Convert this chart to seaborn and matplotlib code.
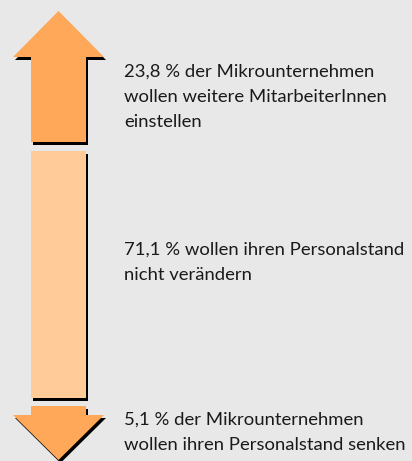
import matplotlib
matplotlib.use("Agg")
import matplotlib.pyplot as plt
from matplotlib.patches import Polygon
import seaborn as sns

# Survey shares (percent) and their captions, top to bottom
shares = [23.8, 71.1, 5.1]
captions = [
    ["{} % der Mikrounternehmen", "wollen weitere MitarbeiterInnen", "einstellen"],
    ["{} % wollen ihren Personalstand", "nicht verändern"],
    ["{} % der Mikrounternehmen", "wollen ihren Personalstand senken"],
]
kinds = ["up", "bar", "down"]

BG = "#e8e8e8"
ORANGE = "#ffa85a"
PEACH = "#ffcb98"

sns.set_theme(style="white", rc={"axes.facecolor": BG, "figure.facecolor": BG})
plt.rcParams["font.family"] = ["Lato", "DejaVu Sans"]

# pixel layout of the schematic arrow (not proportional to the shares)
seg_top = [11, 151, 406]
seg_bot = [142, 398, 460]
text_base = [77, 255, 425]
line_gap = 25
shaft = (31, 86)
head = (13, 104)
head_len = 46
shadow = (2, 3)

fig = plt.figure(figsize=(4.12, 4.61), dpi=100)
ax = fig.add_axes([0, 0, 1, 1])
ax.set_xlim(0, 412)
ax.set_ylim(461, 0)
ax.axis("off")

cx = (head[0] + head[1]) / 2


def shape(kind, top, bot):
    l, r = shaft
    if kind == "up":
        hb = top + head_len
        return [(cx, top), (head[1], hb), (r, hb), (r, bot), (l, bot), (l, hb), (head[0], hb)]
    if kind == "down":
        hb = bot - head_len + 1
        return [(l, top), (r, top), (r, hb), (head[1], hb), (cx, bot), (head[0], hb), (l, hb)]
    return [(l, top), (r, top), (r, bot), (l, bot)]


for kind, top, bot, val, cap, base in zip(kinds, seg_top, seg_bot, shares, captions, text_base):
    pts = shape(kind, top, bot)
    sh = [(x + shadow[0], y + shadow[1]) for x, y in pts]
    ax.add_patch(Polygon(sh, closed=True, facecolor="black", edgecolor="none"))
    color = PEACH if kind == "bar" else ORANGE
    ax.add_patch(Polygon(pts, closed=True, facecolor=color, edgecolor="none"))
    pct = str(val).replace(".", ",")
    for i, line in enumerate(cap):
        ax.text(124, base + i * line_gap, line.format(pct), fontsize=13.3, color="#1a1a1a",
                va="baseline", ha="left")

fig.savefig("out.png", dpi=100, facecolor=BG)
